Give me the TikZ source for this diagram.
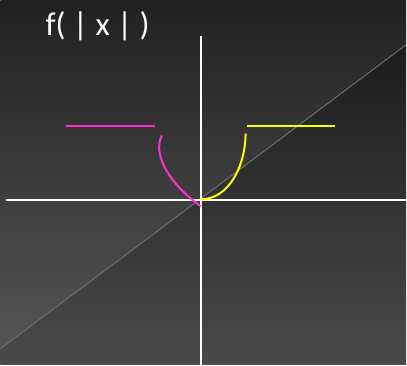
\documentclass[tikz,border=0pt]{standalone}
\usepackage{fontspec}
\newfontfamily\slidefont{Carlito}
\usetikzlibrary{positioning}
\definecolor{bgtop}{RGB}{33,33,33}
\definecolor{bgbot}{RGB}{87,87,87}
\definecolor{halftop}{RGB}{28,28,28}
\definecolor{halfbot}{RGB}{74,74,74}
\definecolor{diagline}{RGB}{110,110,110}
\definecolor{pinkcurve}{RGB}{255,48,210}
\definecolor{yellowcurve}{RGB}{255,255,0}
\begin{document}
\begin{tikzpicture}[x=1pt,y=-1pt,
    axis/.style={draw=white,line width=2pt},
    graph/.style={line width=2pt}]
  % background and darker half below y=x
  \shade[top color=bgtop,bottom color=bgbot] (0,0) rectangle (407,366);
  \coordinate (dl) at (0,350);
  \coordinate (dr) at (407,45);
  \shade[top color=halftop,bottom color=halfbot] (dl) -- (dr) -- (407,366) -- (0,366) -- cycle;
  \draw[diagline,line width=1pt] (dl) -- (dr);
  % axes
  \coordinate (xl) at (6,201);
  \coordinate (xr) at (407,201);
  \coordinate (yt) at (201,36);
  \coordinate (yb) at (201,366);
  \draw[axis] (xl) -- (xr);
  \draw[axis] (yt) -- (yb);
  % title
  \node[anchor=base west,inner sep=0pt,text=white,font=\slidefont\fontsize{33}{38}\selectfont] (title) at (45,36) {f( | x | )};
  % flat parts
  \foreach \a/\b/\c in {66/155/pinkcurve,247/336/yellowcurve}
    \draw[graph,\c] (\a,126) -- (\b,126);
  % curved parts
  \coordinate (ptop) at (162,136);
  \coordinate (pend) at (201,207);
  \coordinate (ystart) at (201,200);
  \coordinate (ytop) at (246,134);
  \draw[graph,pinkcurve] (ptop) .. controls (152,155) and (170,185) .. (pend);
  \draw[graph,yellowcurve] (ystart) .. controls (230,200) and (246,165) .. (ytop);
\end{tikzpicture}
\end{document}
